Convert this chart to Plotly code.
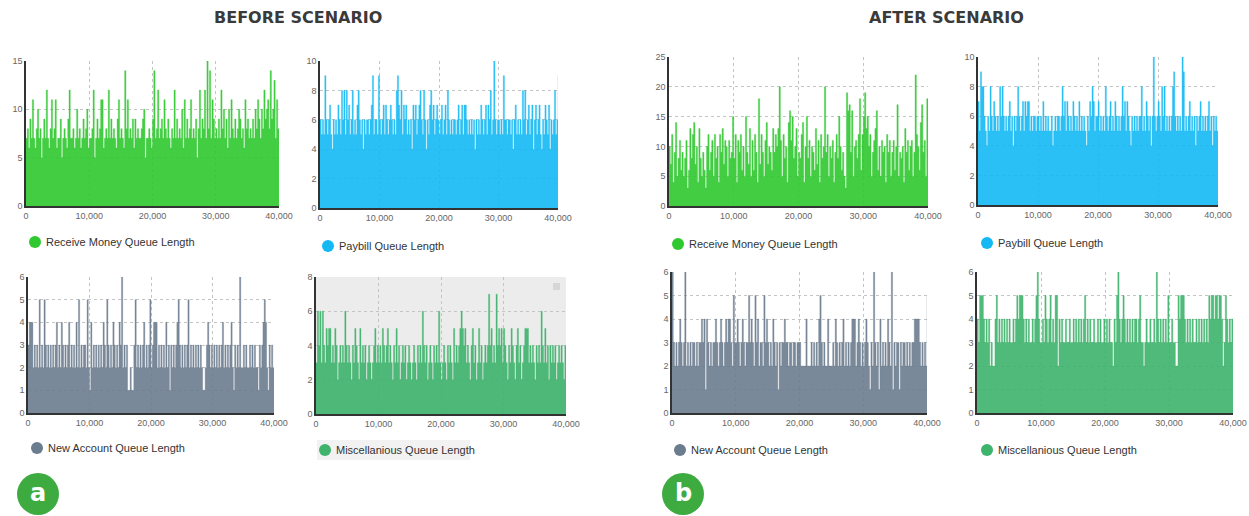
import plotly.graph_objects as go

W, H = 1249, 516          # picture size
time_span = 40000

# ---------------- data (queue lengths sampled across the simulation run) ----------------
receive_before = [
    7, 8, 6, 9, 7, 11, 7, 6, 8, 10,
    7, 8, 5, 7, 9, 7, 12, 7, 6, 8,
    11, 7, 8, 11, 6, 7, 7, 9, 5, 7,
    8, 7, 6, 9, 12, 7, 7, 8, 6, 7,
    10, 7, 8, 6, 7, 9, 7, 8, 10, 6,
    7, 7, 8, 12, 5, 7, 9, 7, 8, 11,
    11, 6, 7, 8, 7, 12, 7, 9, 7, 8,
    7, 6, 9, 11, 7, 8, 7, 6, 14, 8,
    11, 7, 8, 7, 9, 6, 9, 7, 8, 7,
    7, 8, 9, 10, 5, 7, 7, 8, 7, 6,
    9, 14, 7, 8, 12, 7, 8, 9, 7, 11,
    8, 7, 9, 7, 6, 8, 7, 12, 7, 9,
    7, 8, 7, 10, 6, 11, 7, 9, 7, 8,
    11, 7, 8, 7, 9, 5, 8, 12, 7, 9,
    8, 12, 7, 15, 8, 14, 7, 11, 9, 7,
    8, 7, 9, 7, 12, 8, 10, 7, 9, 6,
    10, 7, 11, 8, 7, 9, 7, 8, 10, 9,
    7, 8, 6, 11, 8, 9, 7, 8, 7, 9,
    7, 10, 8, 11, 9, 7, 10, 8, 12, 9,
    10, 11, 8, 14, 9, 10, 13, 7, 11, 8,
    6,
]
paybill_before = [
    6, 5, 6, 5, 9, 6, 5, 6, 7, 5,
    4, 6, 5, 6, 5, 7, 6, 5, 8, 6,
    8, 5, 8, 6, 7, 5, 6, 8, 5, 6,
    5, 7, 8, 6, 5, 6, 4, 6, 5, 6,
    6, 5, 6, 7, 9, 5, 6, 6, 5, 9,
    6, 5, 6, 7, 5, 7, 6, 5, 6, 7,
    6, 5, 6, 5, 8, 9, 7, 6, 8, 5,
    7, 6, 7, 5, 6, 5, 6, 4, 7, 6,
    7, 5, 6, 7, 8, 6, 5, 8, 6, 4,
    6, 5, 7, 8, 6, 7, 5, 6, 7, 6,
    5, 6, 7, 5, 6, 7, 5, 8, 6, 5,
    6, 5, 6, 6, 5, 6, 7, 5, 6, 7,
    5, 7, 7, 6, 5, 6, 5, 6, 5, 6,
    4, 6, 5, 6, 5, 7, 6, 5, 6, 7,
    5, 7, 6, 8, 5, 6, 10, 6, 5, 6,
    6, 5, 6, 5, 9, 6, 6, 5, 6, 6,
    5, 6, 4, 6, 7, 5, 6, 5, 6, 5,
    8, 6, 8, 5, 6, 7, 5, 6, 7, 4,
    6, 7, 5, 6, 7, 5, 4, 6, 5, 7,
    6, 5, 7, 4, 6, 5, 6, 8, 5, 6,
    9,
]
account_before = [
    3, 4, 4, 4, 2, 3, 2, 3, 2, 5,
    2, 3, 2, 5, 3, 2, 3, 2, 3, 2,
    3, 2, 3, 4, 2, 3, 2, 4, 3, 2,
    3, 2, 3, 4, 2, 3, 2, 3, 2, 4,
    2, 5, 2, 3, 2, 3, 3, 2, 5, 2,
    1, 4, 2, 3, 2, 3, 2, 3, 2, 3,
    2, 4, 3, 2, 5, 3, 2, 3, 2, 4,
    3, 2, 3, 2, 4, 3, 6, 2, 3, 2,
    3, 1, 1, 2, 1, 1, 3, 5, 2, 3,
    2, 3, 2, 3, 4, 2, 3, 2, 3, 5,
    2, 3, 4, 4, 4, 2, 3, 2, 3, 2,
    3, 2, 4, 2, 3, 1, 3, 2, 3, 2,
    3, 4, 5, 3, 2, 3, 2, 3, 2, 3,
    5, 2, 3, 2, 3, 2, 3, 2, 3, 2,
    3, 2, 1, 1, 2, 3, 4, 3, 2, 3,
    2, 3, 2, 3, 2, 3, 2, 3, 4, 2,
    3, 2, 3, 2, 3, 4, 2, 1, 3, 2,
    3, 2, 6, 2, 2, 3, 2, 3, 2, 2,
    3, 2, 3, 2, 3, 2, 2, 1, 3, 2,
    3, 4, 5, 4, 2, 1, 3, 2, 3, 2,
    2,
]
misc_before = [
    3, 6, 4, 6, 3, 6, 4, 3, 5, 4,
    5, 5, 3, 4, 3, 5, 4, 2, 3, 4,
    3, 4, 3, 6, 4, 3, 4, 3, 2, 4,
    3, 5, 4, 3, 2, 5, 3, 4, 3, 4,
    2, 3, 4, 3, 2, 3, 4, 5, 3, 4,
    3, 4, 3, 5, 4, 3, 4, 5, 3, 4,
    3, 2, 4, 3, 5, 3, 4, 2, 3, 4,
    3, 4, 2, 3, 4, 3, 2, 3, 4, 3,
    2, 4, 3, 4, 3, 6, 4, 3, 4, 2,
    3, 4, 3, 2, 4, 3, 4, 3, 6, 3,
    2, 3, 4, 3, 2, 4, 3, 4, 3, 2,
    5, 3, 4, 3, 4, 5, 6, 5, 4, 5,
    3, 4, 3, 2, 4, 5, 3, 4, 2, 3,
    5, 3, 4, 2, 3, 4, 3, 4, 7, 4,
    5, 3, 4, 3, 7, 4, 5, 4, 5, 3,
    5, 4, 3, 2, 4, 3, 5, 4, 3, 2,
    4, 5, 3, 4, 2, 3, 4, 5, 5, 5,
    3, 4, 3, 4, 3, 2, 4, 3, 4, 3,
    6, 4, 3, 5, 3, 4, 2, 4, 3, 4,
    3, 4, 2, 3, 4, 3, 4, 3, 2, 4,
    3,
]
receive_after = [
    10, 7, 12, 4, 9, 14, 5, 8, 11, 6,
    9, 5, 8, 11, 3, 6, 13, 8, 12, 14,
    7, 10, 4, 13, 8, 5, 9, 6, 3, 10,
    12, 6, 9, 11, 5, 12, 8, 10, 4, 12,
    9, 13, 7, 11, 10, 5, 11, 8, 9, 15,
    8, 12, 4, 11, 9, 12, 6, 10, 5, 15,
    9, 7, 13, 5, 11, 6, 12, 9, 4, 18,
    7, 12, 9, 5, 11, 14, 7, 10, 9, 6,
    13, 9, 12, 10, 13, 20, 11, 5, 12, 8,
    10, 4, 14, 16, 11, 15, 8, 10, 13, 5,
    9, 8, 12, 14, 4, 10, 15, 8, 11, 5,
    10, 9, 6, 13, 7, 11, 4, 12, 8, 10,
    20, 9, 12, 5, 10, 8, 11, 4, 9, 12,
    8, 15, 10, 6, 9, 5, 3, 19, 16, 17,
    9, 16, 5, 10, 11, 8, 12, 18, 6, 12,
    15, 19, 13, 15, 10, 12, 5, 9, 11, 13,
    16, 6, 10, 5, 11, 9, 10, 4, 12, 9,
    11, 5, 9, 11, 6, 10, 17, 5, 9, 8,
    10, 4, 13, 9, 11, 6, 10, 11, 5, 9,
    22, 12, 10, 6, 14, 17, 9, 11, 5, 18,
    8,
]
paybill_after = [
    7, 5, 9, 8, 8, 6, 5, 4, 6, 5,
    8, 6, 5, 7, 6, 5, 6, 5, 8, 6,
    8, 6, 5, 6, 5, 6, 7, 5, 6, 4,
    6, 5, 6, 8, 6, 5, 6, 7, 5, 7,
    6, 7, 7, 5, 6, 5, 6, 6, 5, 6,
    6, 5, 6, 5, 7, 5, 6, 5, 6, 5,
    5, 6, 4, 5, 6, 5, 6, 6, 5, 6,
    8, 6, 7, 5, 7, 6, 5, 6, 5, 7,
    6, 5, 6, 5, 7, 5, 6, 5, 6, 5,
    4, 6, 5, 7, 6, 8, 7, 5, 6, 6,
    7, 5, 6, 5, 6, 5, 8, 6, 5, 6,
    7, 5, 6, 5, 7, 6, 5, 6, 5, 6,
    8, 6, 7, 5, 7, 6, 5, 4, 6, 5,
    6, 5, 6, 5, 6, 6, 8, 5, 6, 5,
    7, 6, 5, 6, 4, 6, 10, 6, 5, 6,
    7, 6, 5, 8, 6, 8, 5, 6, 5, 6,
    5, 6, 8, 9, 6, 5, 6, 5, 6, 5,
    10, 9, 5, 6, 5, 6, 7, 5, 6, 5,
    6, 4, 6, 5, 6, 7, 5, 6, 5, 6,
    5, 6, 7, 5, 6, 4, 6, 5, 6, 5,
    5,
]
account_after = [
    6, 3, 2, 3, 2, 3, 4, 3, 2, 3,
    6, 2, 3, 2, 3, 2, 3, 3, 2, 3,
    2, 3, 3, 4, 3, 4, 1, 4, 3, 2,
    3, 2, 3, 3, 4, 3, 2, 3, 4, 3,
    2, 3, 4, 3, 4, 4, 3, 2, 5, 3,
    3, 4, 3, 2, 3, 4, 3, 2, 3, 3,
    5, 3, 4, 3, 2, 5, 3, 4, 2, 3,
    3, 2, 5, 3, 4, 3, 2, 3, 2, 4,
    3, 2, 3, 1, 3, 2, 3, 3, 4, 3,
    3, 2, 3, 3, 2, 3, 3, 2, 3, 3,
    3, 2, 2, 2, 2, 4, 2, 2, 2, 3,
    2, 3, 2, 3, 2, 4, 5, 3, 2, 3,
    2, 2, 4, 2, 2, 2, 3, 2, 4, 3,
    2, 3, 2, 3, 4, 2, 3, 2, 3, 2,
    3, 4, 4, 4, 2, 3, 4, 3, 2, 3,
    2, 3, 4, 3, 2, 1, 3, 2, 6, 3,
    2, 3, 1, 4, 2, 3, 2, 3, 2, 4,
    3, 2, 6, 1, 3, 2, 3, 3, 1, 3,
    2, 3, 3, 2, 3, 2, 3, 2, 3, 3,
    4, 4, 4, 4, 3, 2, 3, 2, 3, 2,
    5,
]
misc_after = [
    4, 3, 5, 5, 5, 4, 3, 4, 3, 4,
    2, 3, 2, 2, 4, 5, 3, 4, 3, 4,
    3, 4, 3, 4, 3, 4, 3, 3, 4, 3,
    4, 5, 4, 5, 5, 5, 4, 3, 4, 3,
    4, 3, 3, 4, 3, 4, 5, 6, 4, 3,
    3, 4, 3, 5, 4, 3, 4, 5, 3, 4,
    3, 5, 5, 2, 4, 3, 4, 3, 3, 4,
    3, 3, 4, 3, 3, 4, 3, 4, 3, 4,
    3, 4, 3, 4, 5, 3, 4, 3, 4, 3,
    3, 4, 3, 3, 4, 3, 4, 3, 3, 4,
    3, 4, 3, 4, 3, 3, 2, 4, 3, 5,
    6, 4, 3, 4, 5, 4, 3, 4, 3, 4,
    3, 4, 3, 4, 4, 3, 4, 5, 3, 3,
    2, 3, 4, 3, 3, 4, 3, 3, 4, 3,
    6, 4, 3, 4, 3, 4, 3, 4, 3, 5,
    3, 3, 4, 3, 3, 2, 2, 5, 4, 5,
    5, 5, 4, 3, 4, 3, 4, 3, 4, 3,
    3, 4, 3, 4, 3, 4, 3, 4, 3, 4,
    3, 5, 4, 5, 5, 4, 5, 5, 4, 5,
    5, 4, 2, 3, 5, 4, 3, 4, 3, 4,
    3,
]

series_names = [
    "Receive Money Queue Length", "Paybill Queue Length",
    "New Account Queue Length", "Miscellanious Queue Length",
]
x_ticks = [0, 10000, 20000, 30000, 40000]

# ---------------- styling / layout ----------------
C_RECEIVE = "#2fc82f"
C_PAYBILL = "#14b9f4"
C_ACCOUNT = "#6b7c8e"
C_MISC = "#3db36c"


def px(x):
    """picture pixel x -> paper coordinate"""
    return x / W


def py(y):
    """picture pixel y -> paper coordinate"""
    return 1 - y / H


# (values, name, color, ymax, dtick, (x0, x1, ytop, ybottom) px, legend circle (cx, cy) px)
panels = [
    (receive_before, series_names[0], C_RECEIVE, 15, 5, (26, 279, 61, 206), (35, 242)),
    (paybill_before, series_names[1], C_PAYBILL, 10, 2, (320, 558, 61, 208), (328, 246)),
    (account_before, series_names[2], C_ACCOUNT, 6, 1, (28, 274, 277, 413), (37, 448)),
    (misc_before, series_names[3], C_MISC, 8, 2, (316, 566, 277, 414), (325, 450)),
    (receive_after, series_names[0], C_RECEIVE, 25, 5, (669, 928, 57, 206), (678, 244)),
    (paybill_after, series_names[1], C_PAYBILL, 10, 2, (978, 1218, 57, 205), (987, 243)),
    (account_after, series_names[2], C_ACCOUNT, 6, 1, (672, 927, 272, 413), (680, 450)),
    (misc_after, series_names[3], C_MISC, 6, 1, (977, 1233, 272, 413), (987, 450)),
]


def hex_rgba(h, a):
    h = h.lstrip("#")
    return f"rgba({int(h[0:2],16)},{int(h[2:4],16)},{int(h[4:6],16)},{a})"


fig = go.Figure()
shapes = []
annotations = []
layout_axes = {}

# light grey panel background (before / miscellaneous chart)
shapes.append(dict(type="rect", xref="paper", yref="paper",
                   x0=px(316), x1=px(566), y0=py(414), y1=py(277),
                   fillcolor="#ececec", line=dict(width=0), layer="below"))
shapes.append(dict(type="rect", xref="paper", yref="paper",
                   x0=px(317), x1=px(470), y0=py(460), y1=py(440),
                   fillcolor="#f2f2f2", line=dict(width=0), layer="below"))
shapes.append(dict(type="rect", xref="paper", yref="paper",
                   x0=px(553), x1=px(560), y0=py(290), y1=py(283),
                   fillcolor="#d6d6d6", line=dict(width=0), layer="below"))

for k, (vals, name, color, ymax, dtick, box, leg) in enumerate(panels, start=1):
    n = len(vals)
    xs = [i * time_span / (n - 1) for i in range(n)]
    suffix = "" if k == 1 else str(k)
    fig.add_trace(go.Scatter(
        x=xs, y=vals, mode="lines", name=name, line_shape="hv",
        line=dict(color=hex_rgba(color, 0.55), width=0.6),
        fill="tozeroy", fillcolor=hex_rgba(color, 0.9),
        xaxis="x" + suffix, yaxis="y" + suffix, showlegend=False,
        hoverinfo="x+y",
    ))
    x0, x1, yt, yb = box
    common = dict(showgrid=True, gridcolor="#c4c4c4", griddash="3px,3px",
                  gridwidth=1, zeroline=False, showline=True,
                  linecolor="#333333", linewidth=1.5, ticks="", automargin=False,
                  tickfont=dict(size=9, color="#666666", family="Liberation Sans"))
    layout_axes["xaxis" + suffix] = dict(
        domain=[px(x0), px(x1)], anchor="y" + suffix, range=[0, time_span],
        tickvals=x_ticks, tickformat=",", **common)
    layout_axes["yaxis" + suffix] = dict(
        domain=[py(yb), py(yt)], anchor="x" + suffix, range=[0, ymax],
        dtick=dtick, **common)
    cx, cy = leg
    shapes.append(dict(type="circle", xref="paper", yref="paper",
                       xsizemode="pixel", ysizemode="pixel",
                       xanchor=px(cx), yanchor=py(cy),
                       x0=-6, x1=6, y0=-6, y1=6,
                       fillcolor=color, line=dict(width=0)))
    annotations.append(dict(text=name, xref="paper", yref="paper",
                            x=px(cx + 9), y=py(cy), xanchor="left",
                            yanchor="middle", showarrow=False,
                            font=dict(size=11, color="#333333",
                                      family="Liberation Sans")))

# section titles
annotations.append(dict(text="<b>BEFORE SCENARIO</b>", xref="paper", yref="paper",
                        x=px(298), y=py(17), xanchor="center", yanchor="middle",
                        showarrow=False,
                        font=dict(size=16, color="#3a3a3a", family="DejaVu Sans")))
annotations.append(dict(text="<b>AFTER SCENARIO</b>", xref="paper", yref="paper",
                        x=px(946), y=py(18), xanchor="center", yanchor="middle",
                        showarrow=False,
                        font=dict(size=16, color="#3a3a3a", family="DejaVu Sans")))

# badges a / b
for label, (bx, by) in (("a", (38, 494)), ("b", (683, 494))):
    shapes.append(dict(type="circle", xref="paper", yref="paper",
                       xsizemode="pixel", ysizemode="pixel",
                       xanchor=px(bx), yanchor=py(by),
                       x0=-21, x1=21, y0=-21, y1=21,
                       fillcolor="#3dab40", line=dict(width=0)))
    annotations.append(dict(text=f"<b>{label}</b>", xref="paper", yref="paper",
                            x=px(bx), y=py(by - 1), xanchor="center",
                            yanchor="middle", showarrow=False,
                            font=dict(size=24, color="white", family="DejaVu Sans")))

fig.update_layout(
    width=W, height=H, margin=dict(l=0, r=0, t=0, b=0, autoexpand=False),
    paper_bgcolor="white", plot_bgcolor="rgba(0,0,0,0)",
    shapes=shapes, annotations=annotations, showlegend=False,
    **layout_axes,
)

fig.write_html(
    "out.html",
    config={"displayModeBar": False},
    post_script="document.body.style.margin='0';document.body.style.overflow='hidden';",
)
